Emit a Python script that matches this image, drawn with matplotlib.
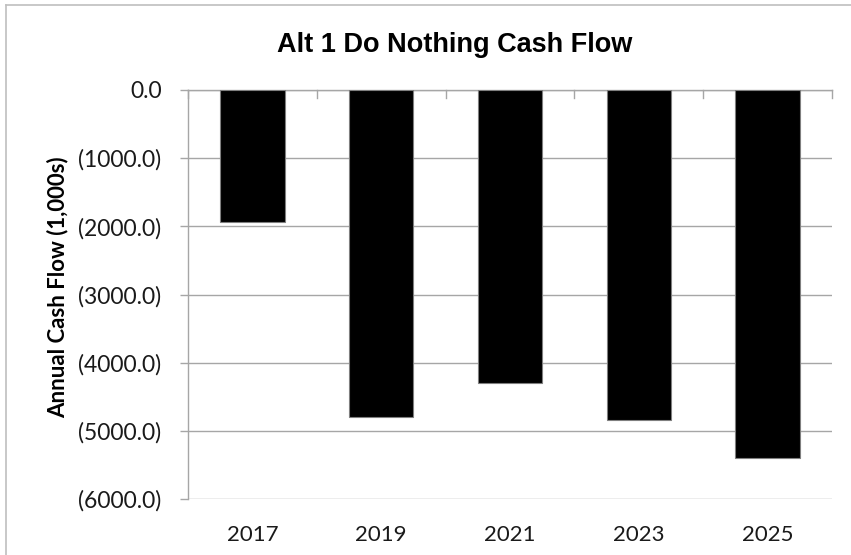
import matplotlib
matplotlib.use("Agg")
import matplotlib.pyplot as plt
from matplotlib.lines import Line2D
from matplotlib.ticker import FixedLocator, FuncFormatter

years = ["2017", "2019", "2021", "2023", "2025"]
cash_flow = [-1930, -4800, -4305, -4845, -5400]
y_ticks = [0, -1000, -2000, -3000, -4000, -5000, -6000]

GRID = "#A6A6A6"

fig = plt.figure(figsize=(8.51, 5.55), dpi=100)
ax = fig.add_axes([188 / 851, 1 - 499 / 555, (832 - 188) / 851, (499 - 90) / 555])

x = range(len(years))
ax.bar(x, cash_flow, width=0.5, color="black", edgecolor="#7F7F7F", linewidth=0.8, zorder=3)

ax.set_xlim(-0.5, len(years) - 0.5)
ax.set_ylim(-6000, 0)


def paren_fmt(v, _pos):
    if abs(v) < 1e-9:
        return "0.0"
    return f"({abs(v):.1f})" if v < 0 else f"{v:.1f}"


ax.yaxis.set_major_locator(FixedLocator(y_ticks))
ax.yaxis.set_major_formatter(FuncFormatter(paren_fmt))
ax.yaxis.grid(True, color=GRID, linewidth=1.0, zorder=0)
ax.set_axisbelow(True)

ax.set_xticks(list(x))
ax.set_xticklabels(years)
ax.tick_params(axis="x", length=0, pad=19, labelsize=16)
ax.tick_params(axis="y", length=6, color=GRID, width=1.0, pad=13, labelsize=16.5)
for lbl in ax.get_xticklabels() + ax.get_yticklabels():
    lbl.set_fontfamily("Lato")
    lbl.set_color("#1a1a1a")

for side in ("right", "bottom"):
    ax.spines[side].set_visible(False)
ax.spines["left"].set_color(GRID)
ax.spines["top"].set_color(GRID)
ax.spines["left"].set_linewidth(1.0)
ax.spines["top"].set_linewidth(1.0)

# category divider ticks hanging from the zero line
trans = ax.get_xaxis_transform()
for b in [i - 0.5 for i in range(len(years) + 1)]:
    ax.add_line(Line2D([b, b], [1.0, 1.0 - 8 / 409], transform=trans,
                       color=GRID, linewidth=1.0, clip_on=False, zorder=4))

fig.text(58 / 851, 1 - 287 / 555, "Annual Cash Flow (1,000s)", rotation=90,
         ha="center", va="center", fontfamily="Lato", fontweight="bold",
         fontsize=16, color="black")

fig.text(455 / 851, 1 - 52 / 555, "Alt 1 Do Nothing Cash Flow", ha="center", va="baseline",
         fontfamily="Liberation Sans", fontweight="bold", fontsize=19.5)

# chart area frame
fig.add_artist(Line2D([6 / 851, 6 / 851], [0, 1 - 5 / 555], transform=fig.transFigure,
                      color="#BFBFBF", linewidth=1.2))
fig.add_artist(Line2D([6 / 851, 1], [1 - 5 / 555, 1 - 5 / 555], transform=fig.transFigure,
                      color="#BFBFBF", linewidth=1.2))

fig.savefig("out.png", dpi=100)
